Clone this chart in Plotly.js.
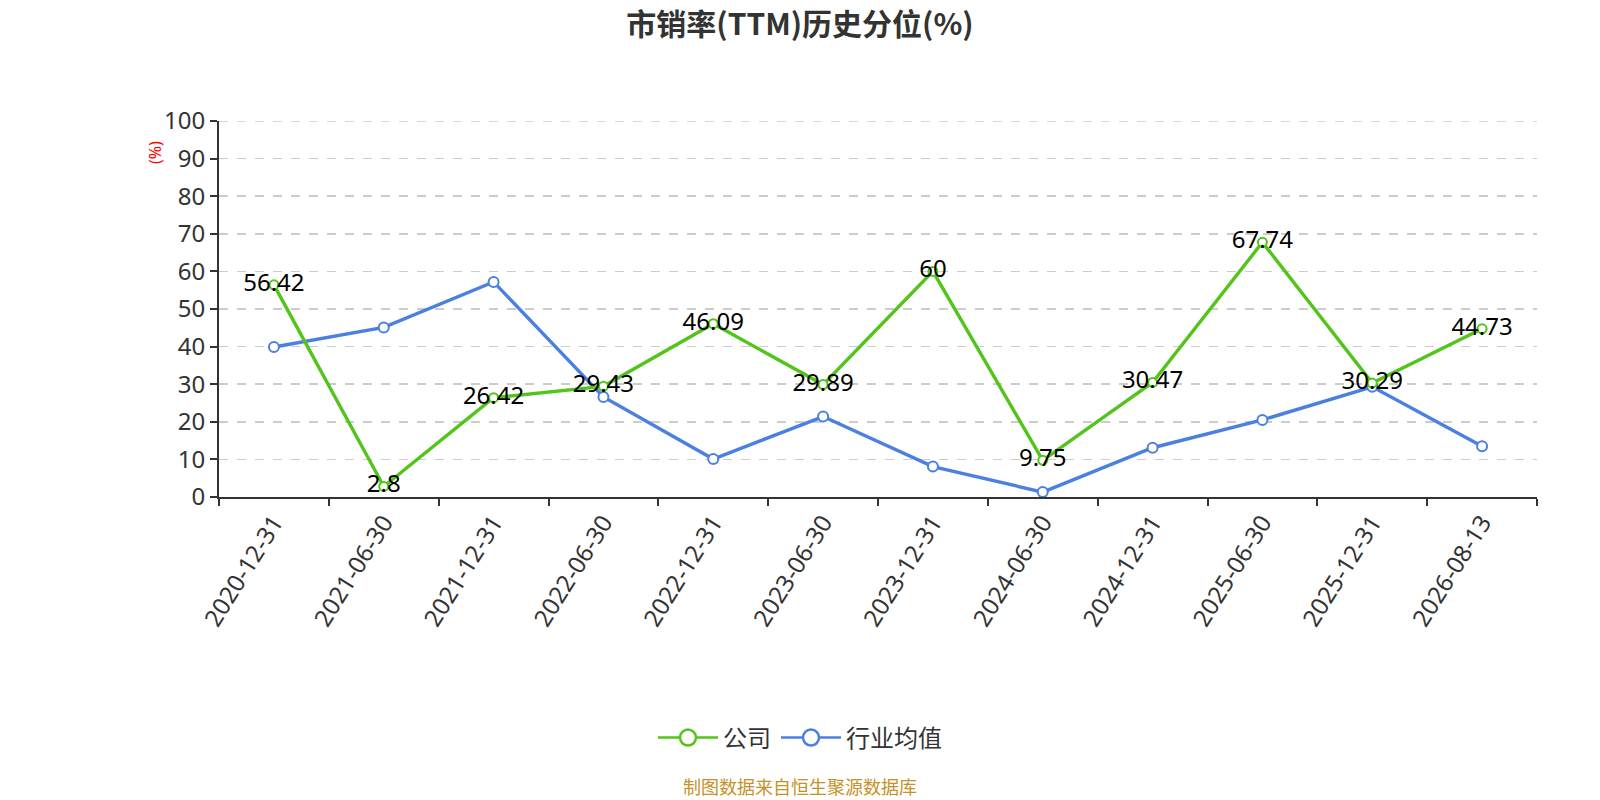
<!DOCTYPE html>
<html>
<head>
<meta charset="utf-8">
<script src="https://cdn.plot.ly/plotly-3.0.1.min.js"></script>
<style>html,body{margin:0;padding:0;background:#fff;}#chart{width:1600px;height:800px;}</style>
</head>
<body>
<div id="chart"></div>
<script>
const categories = ["2020-12-31","2021-06-30","2021-12-31","2022-06-30","2022-12-31","2023-06-30","2023-12-31","2024-06-30","2024-12-31","2025-06-30","2025-12-31","2026-08-13"];
const companyValues = [56.42, 2.8, 26.42, 29.43, 46.09, 29.89, 60, 9.75, 30.47, 67.74, 30.29, 44.73];
const industryValues = [39.9, 45.1, 57.2, 26.6, 10.1, 21.4, 8.1, 1.3, 13.1, 20.5, 29.3, 13.5];
const yTicks = [0,10,20,30,40,50,60,70,80,90,100];
const seriesNames = ["公司", "行业均值"];

const font = '"Noto Sans", "Noto Sans CJK SC", sans-serif';
const cjk = '"Noto Sans CJK SC", "Noto Sans", sans-serif';
const green = "#52c41a", blue = "#4b80e0";

const traces = [
  {
    x: categories, y: industryValues, name: seriesNames[1], type: "scatter", mode: "lines+markers", showlegend: false,
    line: {color: blue, width: 3.4},
    marker: {symbol: "circle", size: 10, color: "#ffffff", line: {color: blue, width: 2}}
  },
  {
    x: categories, y: companyValues, name: seriesNames[0], type: "scatter", mode: "lines+markers+text", showlegend: false,
    text: companyValues.map(v => String(v)), textposition: "middle center",
    textfont: {family: font, size: 24, color: "#000000"},
    line: {color: green, width: 3.4},
    marker: {symbol: "circle", size: 9, color: "#ffffff", line: {color: green, width: 2}}
  },
  // legend entries
  {x: [null], y: [null], name: seriesNames[0], type: "scatter", mode: "lines+markers",
   line: {color: green, width: 2.5}, marker: {symbol: "circle", size: 20, color: "#ffffff", line: {color: green, width: 2.5}}},
  {x: [null], y: [null], name: seriesNames[1], type: "scatter", mode: "lines+markers",
   line: {color: blue, width: 2.5}, marker: {symbol: "circle", size: 20, color: "#ffffff", line: {color: blue, width: 2.5}}}
];

const L = 219, R = 63, T = 121, B = 303;
const pw = 1600 - L - R, ph = 800 - T - B;
const px = x => (x - L) / pw;
const py = y => (800 - B - y) / ph;

const layout = {
  width: 1600, height: 800,
  paper_bgcolor: "#ffffff", plot_bgcolor: "#ffffff",
  margin: {l: L, r: R, t: T, b: B},
  title: {text: "<b>市销率(TTM)历史分位(%)</b>", font: {family: cjk, size: 30, color: "#333333"},
          x: 0.5, xref: "container", xanchor: "center", y: 1 - 24/800, yref: "container", yanchor: "middle"},
  showlegend: true,
  legend: {orientation: "h", x: 0.5, xref: "container", xanchor: "center", y: 1 - 738/800, yref: "container", yanchor: "middle",
           font: {family: cjk, size: 24, color: "#333333"}, itemwidth: 60},
  xaxis: {
    type: "category", range: [-0.5, 11.5], tickson: "boundaries",
    showline: true, linecolor: "#333333", linewidth: 2,
    ticks: "outside", ticklen: 7, tickcolor: "#333333", tickwidth: 2,
    tickangle: -58, tickfont: {family: font, size: 24, color: "#333333"},
    showgrid: false, zeroline: false, fixedrange: true
  },
  yaxis: {
    range: [0, 100], tickvals: yTicks, ticktext: yTicks.map(String),
    showline: true, linecolor: "#333333", linewidth: 2,
    ticks: "outside", ticklen: 7, tickcolor: "#333333", tickwidth: 2,
    tickfont: {family: font, size: 24, color: "#333333"},
    showgrid: true, gridcolor: "#cccccc", gridwidth: 1.5, griddash: "dash",
    zeroline: false, fixedrange: true
  },
  shapes: [
    {type: "line", xref: "paper", x0: 0, x1: 1, yref: "y", y0: yTicks[yTicks.length - 1], y1: yTicks[yTicks.length - 1],
     line: {color: "#cccccc", width: 1.5, dash: "dash"}, layer: "below"}
  ],
  annotations: [
    {text: "(%)", xref: "paper", yref: "paper", x: px(155), y: py(153), xanchor: "center", yanchor: "middle",
     showarrow: false, textangle: -90, font: {family: font, size: 16, color: "#ff0000"}},
    {text: "制图数据来自恒生聚源数据库", xref: "paper", yref: "paper", x: px(800), y: py(786), xanchor: "center", yanchor: "middle",
     showarrow: false, font: {family: cjk, size: 18, color: "#c59228"}}
  ]
};

Plotly.newPlot("chart", traces, layout, {displayModeBar: false, staticPlot: true});
</script>
</body>
</html>
